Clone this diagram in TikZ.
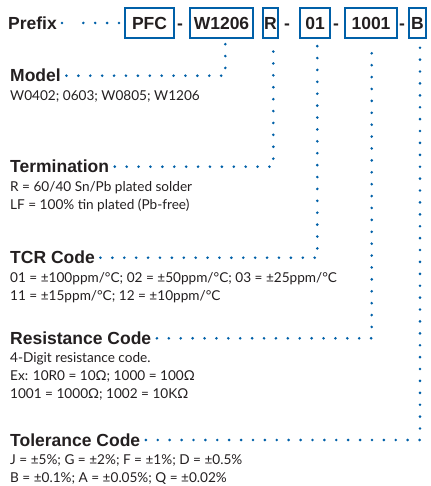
\documentclass[tikz,border=0pt]{standalone}
\usepackage{fontspec}
\setmainfont{Liberation Sans}
\newfontfamily\bodyfont{Lato}
\definecolor{codeblue}{RGB}{0,96,168}
\definecolor{inkgray}{RGB}{35,31,32}
\tikzset{
  codebox/.style={draw=codeblue,line width=2pt,inner sep=0pt,minimum height=30pt,font=\bfseries\fontsize{17.5}{20}\selectfont,text=inkgray},
  heading/.style={anchor=west,inner sep=0pt,font=\bfseries\fontsize{17.5}{20}\selectfont,text=inkgray},
  hyph/.style={anchor=base,inner sep=0pt,font=\bfseries\fontsize{17.5}{20}\selectfont,text=inkgray},
  detail/.style={anchor=north west,inner sep=0pt,align=left,font=\bodyfont\fontsize{13.6}{18}\selectfont,text=inkgray},
  dotline/.style={codeblue,line width=2.9pt,line cap=round,dash pattern=on 0pt off 11.9pt},
}
\begin{document}
\begin{tikzpicture}[x=1pt,y=-1pt]
\useasboundingbox (0,0) rectangle (430,486);
\node[heading] (prefix) at(8,23){Prefix};
\node[codebox,minimum width=49pt] (pfc) at(149.5,23){PFC};
\node[hyph] (h1) at(180,29.3){-};
\node[codebox,minimum width=63pt] (w1206) at(221.5,23){W1206};
\node[codebox,minimum width=15pt] (r) at(270.5,23){R};
\node[hyph] (h2) at(287,29.3){-};
\node[codebox,minimum width=30pt] (tcr) at(315,23){01};
\node[hyph] (h3) at(336,29.3){-};
\node[codebox,minimum width=52pt] (res) at(371,23){1001};
\node[hyph] (h4) at(402,29.3){-};
\node[codebox,minimum width=17pt] (tol) at(417.5,23){B};
\fill[codeblue] ([xshift=5pt]prefix.east) circle (1.45pt);
\coordinate (pdots) at(83.3,23);
\draw[dotline] (pdots) -- (pfc.west);
\node[heading] (model) at(10,75.7){Model};
\node[detail] (modeltxt) at(10,90.5){W0402; 0603; W0805; W1206};
\node[heading] (term) at(10,166.7){Termination};
\node[detail] (termtxt) at(10,181){R = 60/40 Sn/Pb plated solder\\LF = 100\% tin plated (Pb-free)};
\node[heading] (tcrhead) at(10,257.7){TCR Code};
\node[detail] (tcrtxt) at(10,272.5){01 = ±100ppm/°C; 02 = ±50ppm/°C; 03 = ±25ppm/°C\\11 = ±15ppm/°C; 12 = ±10ppm/°C};
\node[heading] (reshead) at(10,338.3){Resistance Code};
\node[detail] (restxt) at(10,352){4-Digit resistance code.\\Ex: 10R0 = 10Ω; 1000 = 100Ω\\1001 = 1000Ω; 1002 = 10KΩ};
\node[heading] (tolhead) at(10,440){Tolerance Code};
\node[detail] (toltxt) at(10,454.5){J = ±5\%; G = ±2\%; F = ±1\%; D = ±0.5\%\\B = ±0.1\%; A = ±0.05\%; Q = ±0.02\%};
\draw[dotline] ([xshift=5.5pt]model.east) -| ([shift={(3.8pt,-4.5pt)}]w1206.south);
\draw[dotline] ([xshift=5.5pt]term.east) -| ([shift={(2.8pt,-4.5pt)}]r.south);
\draw[dotline] ([xshift=5.5pt]tcrhead.east) -| ([shift={(2.3pt,-4.5pt)}]tcr.south);
\draw[dotline] ([xshift=5.5pt]reshead.east) -| ([shift={(0.7pt,-4.5pt)}]res.south);
\draw[dotline] ([xshift=5.5pt]tolhead.east) -| ([shift={(2.5pt,-4.5pt)}]tol.south);
\end{tikzpicture}
\end{document}
